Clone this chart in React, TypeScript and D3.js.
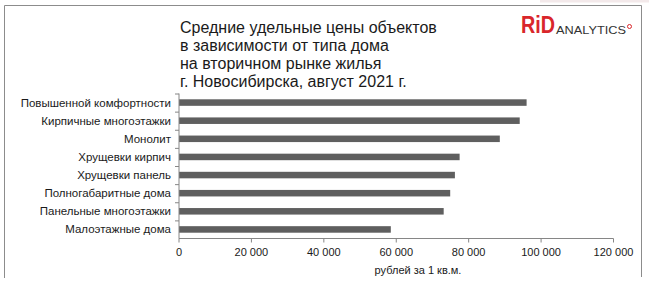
import React from "react";
import * as d3 from "d3";

const categories = [
  "Повышенной комфортности",
  "Кирпичные многоэтажки",
  "Монолит",
  "Хрущевки кирпич",
  "Хрущевки панель",
  "Полногабаритные дома",
  "Панельные многоэтажки",
  "Малоэтажные дома",
];
const values = [96000, 94100, 88600, 77500, 76200, 74900, 73100, 58500];
const xTicks = [0, 20000, 40000, 60000, 80000, 100000, 120000];
const titleLines = [
  "Средние удельные цены объектов",
  "в зависимости от типа дома",
  "на вторичном рынке жилья",
  "г. Новосибирска, август 2021 г.",
];
const xAxisTitle = "рублей за 1 кв.м.";

const W = 649;
const H = 287;
const FONT = "'Liberation Sans', Arial, sans-serif";

export default function App() {
  const x = d3.scaleLinear().domain([0, 120000]).range([179, 613.5]);
  const y = d3.scaleBand<string>().domain(categories).range([93.5, 238.5]).paddingInner(0.64).paddingOuter(0.32);
  const band = d3.scaleBand<string>().domain(categories).range([93.5, 238.5]);
  const fmt = (v: number) => d3.format(",")(v).replace(/,/g, " ");
  const axisColor = "#868686";
  const axisY = 238.5;

  return (
    <div style={{ position: "absolute", left: 0, top: 0 }}>
      <svg width={W} height={H} style={{ display: "block" }}>
        <rect x={0} y={0} width={W} height={H} fill="#fff" />
        <rect x={540} y={0} width={109} height={2.5} fill="#f3e9ea" />
        {/* border */}
        <path d={`M4.5,278 V5.5 H641.5 V277`} fill="none" stroke="#8c8c8c" strokeWidth={1} />

        {/* title */}
        <g fontFamily={FONT} fontSize={16} fill="#1a1a1a">
          {titleLines.map((t, i) => (
            <text key={i} x={180} y={33 + i * 18}>{t}</text>
          ))}
        </g>

        {/* logo */}
        <g>
          <text x={521} y={33} fontFamily={FONT} fontWeight="bold" fontSize={23} fill="#d9262b" textLength={34} lengthAdjust="spacingAndGlyphs">RiD</text>
          <text x={556} y={34} fontFamily={FONT} fontSize={11} fill="#333" textLength={70} lengthAdjust="spacingAndGlyphs">ANALYTICS</text>
          <circle cx={629.5} cy={26.5} r={2} fill="none" stroke="#d9262b" strokeWidth={1} />
        </g>

        {/* bars */}
        {categories.map((c, i) => (
          <rect key={c} x={x(0)} y={y(c)!} width={x(values[i]) - x(0)} height={y.bandwidth()} fill="#5f5f5f" />
        ))}

        {/* y axis */}
        <line x1={179} x2={179} y1={93.5} y2={axisY} stroke={axisColor} />
        {categories.map((c) => (
          <line key={"t" + c} x1={175} x2={179} y1={band(c)! + 0.5} y2={band(c)! + 0.5} stroke={axisColor} />
        ))}
        <g fontFamily={FONT} fontSize={11.5} fill="#1a1a1a" textAnchor="end">
          {categories.map((c) => (
            <text key={"l" + c} x={171} y={band(c)! + band.bandwidth() / 2 + 4}>{c}</text>
          ))}
        </g>

        {/* x axis */}
        <line x1={179} x2={613.5} y1={axisY} y2={axisY} stroke={axisColor} />
        {xTicks.map((v) => (
          <line key={"x" + v} x1={x(v)} x2={x(v)} y1={axisY} y2={axisY + 4} stroke={axisColor} />
        ))}
        <g fontFamily={FONT} fontSize={11} fill="#1a1a1a" textAnchor="middle">
          {xTicks.map((v) => (
            <text key={"xl" + v} x={x(v)} y={256}>{fmt(v)}</text>
          ))}
          <text x={418} y={274}>{xAxisTitle}</text>
        </g>
      </svg>
    </div>
  );
}
